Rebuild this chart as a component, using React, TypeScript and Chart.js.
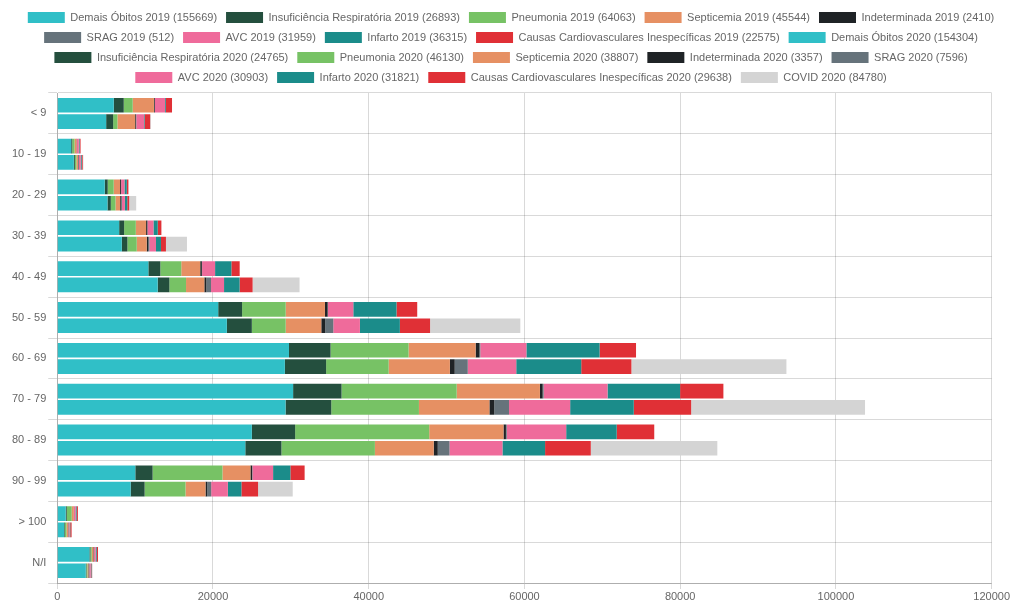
import React, { useEffect, useRef } from "react";
import { Chart, registerables } from "chart.js";

Chart.register(...registerables);

const categories = ["< 9", "10 - 19", "20 - 29", "30 - 39", "40 - 49", "50 - 59", "60 - 69", "70 - 79", "80 - 89", "90 - 99", "> 100", "N/I"];

// 2019 series
const demais2019 = [7260, 1790, 6100, 7950, 11700, 20670, 29760, 30290, 24990, 10025, 1090, 4130];
const insuf2019 = [1280, 130, 380, 640, 1540, 3070, 5340, 6220, 5560, 2220, 130, 130];
const pneu2019 = [1150, 300, 770, 1500, 2690, 5600, 10020, 14790, 17220, 8975, 640, 170];
const sept2019 = [2730, 250, 820, 1320, 2430, 5040, 8610, 10690, 9540, 3590, 260, 215];
const indet2019 = [100, 40, 120, 160, 210, 340, 500, 350, 310, 215, 30, 80];
const srag2019 = [20, 5, 10, 15, 30, 50, 100, 120, 110, 40, 2, 10];
const avc2019 = [1300, 250, 430, 770, 1670, 3250, 5920, 8210, 7630, 2655, 200, 200];
const infarto2019 = [100, 100, 300, 550, 2090, 5550, 9400, 9320, 6490, 2220, 130, 130];
const causas2019 = [800, 130, 210, 470, 1070, 2660, 4680, 5560, 4820, 1830, 170, 170];

// 2020 series
const demais2020 = [6280, 2130, 6450, 8290, 12900, 21780, 29230, 29320, 24150, 9425, 880, 3660];
const insuf2020 = [900, 130, 430, 720, 1500, 3210, 5300, 5870, 4640, 1795, 85, 85];
const pneu2020 = [550, 200, 600, 1200, 2140, 4350, 8035, 11260, 12005, 5255, 215, 130];
const sept2020 = [2270, 200, 600, 1280, 2350, 4570, 7860, 9050, 7550, 2565, 215, 130];
const indet2020 = [100, 50, 130, 170, 260, 510, 620, 615, 525, 215, 30, 85];
const srag2020 = [50, 60, 100, 170, 600, 1030, 1675, 1900, 1505, 515, 30, 40];
const avc2020 = [1000, 250, 380, 850, 1670, 3420, 6225, 7855, 6800, 2140, 130, 170];
const infarto2020 = [80, 120, 300, 640, 2000, 5130, 8345, 8170, 5475, 1740, 85, 85];
const causas2020 = [700, 130, 250, 640, 1670, 3880, 6445, 7370, 5870, 2140, 170, 85];
const covid2020 = [100, 80, 900, 2700, 6030, 11590, 19910, 22330, 16250, 4450, 20, 50];

const xTicks = [0, 20000, 40000, 60000, 80000, 100000, 120000];

const labels2019 = [
  "Demais Óbitos 2019 (155669)",
  "Insuficiência Respiratória 2019 (26893)",
  "Pneumonia 2019 (64063)",
  "Septicemia 2019 (45544)",
  "Indeterminada 2019 (2410)",
  "SRAG 2019 (512)",
  "AVC 2019 (31959)",
  "Infarto 2019 (36315)",
  "Causas Cardiovasculares Inespecíficas 2019 (22575)",
];
const labels2020 = [
  "Demais Óbitos 2020 (154304)",
  "Insuficiência Respiratória 2020 (24765)",
  "Pneumonia 2020 (46130)",
  "Septicemia 2020 (38807)",
  "Indeterminada 2020 (3357)",
  "SRAG 2020 (7596)",
  "AVC 2020 (30903)",
  "Infarto 2020 (31821)",
  "Causas Cardiovasculares Inespecíficas 2020 (29638)",
  "COVID 2020 (84780)",
];

const colors = ["#30bfc7", "#244f3e", "#77c265", "#e69063", "#1f2326", "#66737b", "#ef6b9b", "#1b8c8a", "#e03036", "#d4d4d4"];

const series2019 = [demais2019, insuf2019, pneu2019, sept2019, indet2019, srag2019, avc2019, infarto2019, causas2019];
const series2020 = [demais2020, insuf2020, pneu2020, sept2020, indet2020, srag2020, avc2020, infarto2020, causas2020, covid2020];

export default function App() {
  const ref = useRef<HTMLCanvasElement | null>(null);
  useEffect(() => {
    if (!ref.current) return;
    const font = "Arial, 'Liberation Sans', Helvetica, sans-serif";
    Chart.defaults.font.family = font;
    Chart.defaults.font.size = 11;
    Chart.defaults.color = "#666";
    const datasets: any[] = [];
    series2019.forEach((d, i) =>
      datasets.push({ label: labels2019[i], data: d, backgroundColor: colors[i], stack: "2019", borderWidth: 0 })
    );
    series2020.forEach((d, i) =>
      datasets.push({ label: labels2020[i], data: d, backgroundColor: colors[i], stack: "2020", borderWidth: 0 })
    );
    const chart = new Chart(ref.current, {
      type: "bar",
      data: { labels: categories, datasets },
      options: {
        animation: false,
        responsive: true,
        maintainAspectRatio: false,
        indexAxis: "y",
        layout: { padding: { top: 3, right: 0, left: 10, bottom: 0 } },
        plugins: {
          legend: {
            position: "top",
            labels: { boxWidth: 37, boxHeight: 11, padding: 9, color: "#666", font: { size: 11 } },
          },
          tooltip: { enabled: false },
        },
        scales: {
          x: {
            stacked: true,
            min: 0,
            max: 120000,
            afterBuildTicks: (axis: any) => {
              axis.ticks = xTicks.map((v) => ({ value: v }));
            },
            ticks: { callback: (v: any) => String(v), color: "#666", maxRotation: 0, padding: 2, font: { size: 11, lineHeight: 1 } },
            grid: { color: "rgba(0,0,0,0.15)", tickLength: 6 },
            border: { color: "rgba(0,0,0,0.2)" },
          },
          y: {
            stacked: true,
            ticks: { color: "#666", padding: 2 },
            grid: { color: "rgba(0,0,0,0.15)", offset: true, tickLength: 9 },
            border: { color: "rgba(0,0,0,0.2)" },
          },
        },
      },
    });
    return () => chart.destroy();
  }, []);
  return (
    <div style={{ position: "absolute", left: 0, top: 0, width: 1012, height: 604, background: "#fff" }}>
      <canvas ref={ref} />
    </div>
  );
}
